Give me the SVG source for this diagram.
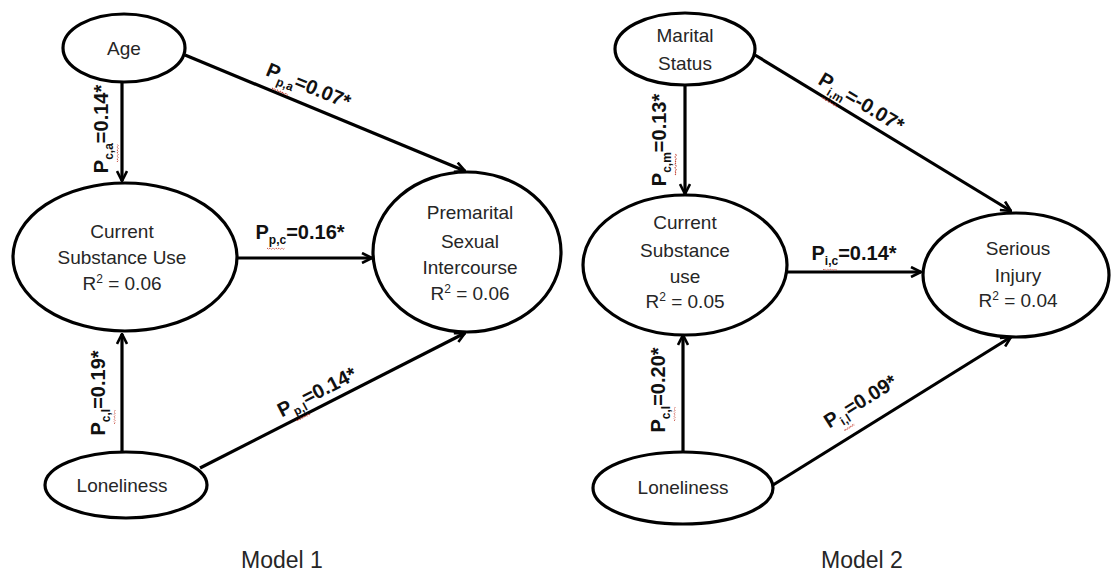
<svg xmlns="http://www.w3.org/2000/svg" width="1117" height="578" viewBox="0 0 1117 578">
<style>
.node ellipse{fill:#fff;stroke:#000;stroke-width:3.2}
.nt{font-family:"Liberation Sans",Arial,sans-serif;font-size:19px;fill:#262626;text-anchor:middle}
.sup{font-size:12px}
.edge line{stroke:#000;stroke-width:3.2;fill:none}
.lbl{font-family:"Liberation Sans",Arial,sans-serif;font-size:20px;font-weight:bold;fill:#111;text-anchor:middle}
.sub{font-size:12px}
.squig{fill:none;stroke:#c0392b;stroke-width:0.9;stroke-dasharray:1.5 0.8}
.title{font-family:"Liberation Sans",Arial,sans-serif;font-size:23px;fill:#262626;text-anchor:middle}
</style>
<defs>
<marker id="arr" viewBox="0 0 12 12" refX="11" refY="6" markerWidth="12" markerHeight="12" markerUnits="userSpaceOnUse" orient="auto">
<path d="M1,1 L11,6 L1,11" fill="none" stroke="#000" stroke-width="2.6"/>
</marker>
<path id="sq" class="squig" d="M0,0 l1.5,1.2 l1.5,-1.2 l1.5,1.2 l1.5,-1.2 l1.5,1.2 l1.5,-1.2 l1.5,1.2 l1.5,-1.2 l1.5,1.2 l1.5,-1.2 l1.5,1.2 l1.5,-1.2"/>
</defs>
<rect width="1117" height="578" fill="#fff"/>

<g id="edges" class="edge">
<line x1="122" y1="82" x2="122" y2="181" marker-end="url(#arr)"/>
<line x1="185" y1="55" x2="465" y2="171" marker-end="url(#arr)"/>
<line x1="236" y1="258" x2="372" y2="258" marker-end="url(#arr)"/>
<line x1="122" y1="452" x2="122" y2="334" marker-end="url(#arr)"/>
<line x1="200" y1="468" x2="465" y2="333" marker-end="url(#arr)"/>
<line x1="685" y1="85" x2="685" y2="194" marker-end="url(#arr)"/>
<line x1="755" y1="55" x2="1011" y2="211" marker-end="url(#arr)"/>
<line x1="787" y1="272" x2="921" y2="272" marker-end="url(#arr)"/>
<line x1="683" y1="452" x2="683" y2="335" marker-end="url(#arr)"/>
<line x1="773" y1="485" x2="1011" y2="337" marker-end="url(#arr)"/>
</g>

<g id="edge-labels">
<g transform="translate(108,129) rotate(-90)">
<text class="lbl">P<tspan class="sub" dy="5">c,a</tspan><tspan dy="-5">=0.14*</tspan></text>
<use href="#sq" transform="translate(-33,9)"/>
</g>
<g transform="translate(306,92) rotate(22.5)">
<text class="lbl">P<tspan class="sub" dy="5">p,a</tspan><tspan dy="-5">=0.07*</tspan></text>
<use href="#sq" transform="translate(-33,9)"/>
</g>
<g transform="translate(300,239)">
<text class="lbl">P<tspan class="sub" dy="5">p,c</tspan><tspan dy="-5">=0.16*</tspan></text>
<use href="#sq" transform="translate(-33,9)"/>
</g>
<g transform="translate(105,393) rotate(-90)">
<text class="lbl">P<tspan class="sub" dy="5">c,l</tspan><tspan dy="-5">=0.19*</tspan></text>
<use href="#sq" transform="translate(-31,9) scale(0.8,1)"/>
</g>
<g transform="translate(320,398) rotate(-27)">
<text class="lbl">P<tspan class="sub" dy="5">p,l</tspan><tspan dy="-5">=0.14*</tspan></text>
<use href="#sq" transform="translate(-31,9) scale(0.85,1)"/>
</g>
<g transform="translate(666,140) rotate(-90)">
<text class="lbl">P<tspan class="sub" dy="5">c,m</tspan><tspan dy="-5">=0.13*</tspan></text>
<use href="#sq" transform="translate(-35,9) scale(1.2,1)"/>
</g>
<g transform="translate(858,108) rotate(31)">
<text class="lbl">P<tspan class="sub" dy="5">i,m</tspan><tspan dy="-5">=-0.07*</tspan></text>
<use href="#sq" transform="translate(-36,9)"/>
</g>
<g transform="translate(854,260)">
<text class="lbl">P<tspan class="sub" dy="5">i,c</tspan><tspan dy="-5">=0.14*</tspan></text>
<use href="#sq" transform="translate(-31,9) scale(0.8,1)"/>
</g>
<g transform="translate(665,390) rotate(-90)">
<text class="lbl">P<tspan class="sub" dy="5">c,l</tspan><tspan dy="-5">=0.20*</tspan></text>
<use href="#sq" transform="translate(-31,9) scale(0.8,1)"/>
</g>
<g transform="translate(864,407) rotate(-32)">
<text class="lbl">P<tspan class="sub" dy="5">i,l</tspan><tspan dy="-5">=0.09*</tspan></text>
<use href="#sq" transform="translate(-29,9) scale(0.65,1)"/>
</g>
</g>

<g id="age" class="node">
<ellipse cx="124" cy="48" rx="61" ry="34"/>
<text class="nt" x="124" y="55">Age</text>
</g>
<g id="current1" class="node">
<ellipse cx="125" cy="257" rx="112" ry="74"/>
<text class="nt" x="122" y="238">Current</text>
<text class="nt" x="122" y="264">Substance Use</text>
<text class="nt" x="122" y="290">R<tspan class="sup" dy="-7">2</tspan><tspan dy="7"> = 0.06</tspan></text>
</g>
<g id="premarital" class="node">
<ellipse cx="467" cy="252" rx="94" ry="80"/>
<text class="nt" x="470" y="219">Premarital</text>
<text class="nt" x="470" y="248">Sexual</text>
<text class="nt" x="470" y="274">Intercourse</text>
<text class="nt" x="470" y="300">R<tspan class="sup" dy="-7">2</tspan><tspan dy="7"> = 0.06</tspan></text>
</g>
<g id="loneliness1" class="node">
<ellipse cx="126" cy="485" rx="81" ry="33"/>
<text class="nt" x="122" y="492">Loneliness</text>
</g>

<g id="marital" class="node">
<ellipse cx="685" cy="49" rx="70" ry="36"/>
<text class="nt" x="685" y="42">Marital</text>
<text class="nt" x="685" y="70">Status</text>
</g>
<g id="current2" class="node">
<ellipse cx="685" cy="265" rx="102" ry="70"/>
<text class="nt" x="685" y="229">Current</text>
<text class="nt" x="685" y="257">Substance</text>
<text class="nt" x="685" y="283">use</text>
<text class="nt" x="685" y="308">R<tspan class="sup" dy="-7">2</tspan><tspan dy="7"> = 0.05</tspan></text>
</g>
<g id="injury" class="node">
<ellipse cx="1016" cy="275" rx="93" ry="62"/>
<text class="nt" x="1018" y="255">Serious</text>
<text class="nt" x="1018" y="282">Injury</text>
<text class="nt" x="1018" y="307">R<tspan class="sup" dy="-7">2</tspan><tspan dy="7"> = 0.04</tspan></text>
</g>
<g id="loneliness2" class="node">
<ellipse cx="683" cy="488" rx="90" ry="36"/>
<text class="nt" x="683" y="494">Loneliness</text>
</g>

<text class="title" x="282" y="568">Model 1</text>
<text class="title" x="862" y="568">Model 2</text>
</svg>
